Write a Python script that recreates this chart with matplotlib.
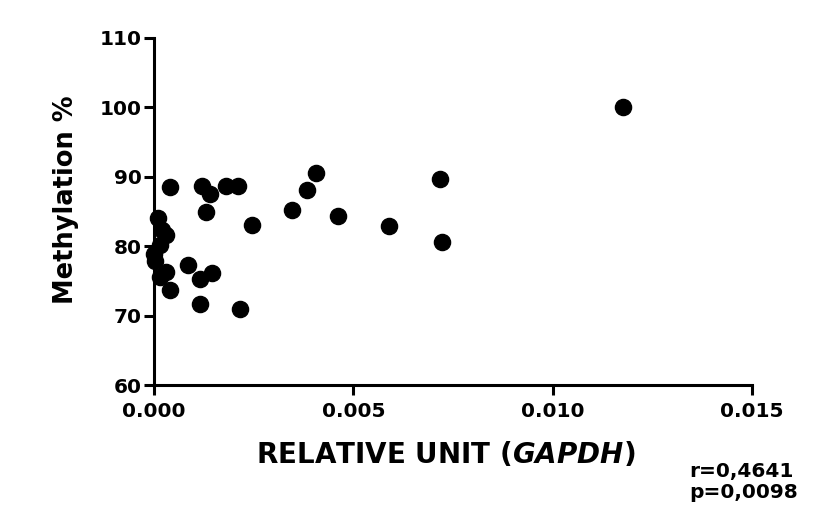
import matplotlib.pyplot as plt

# --- 数据 ---
rel_unit = [0.01176, 0.00717, 0.00722, 0.00589, 0.00462, 0.00406, 0.00384, 0.00346,
            0.0004, 0.0012, 0.0014, 0.0018, 0.0021, 0.0013, 0.00246,
            0.0001, 0.0002, 0.0003, 0.00015, 0.00000, 0.00003, 0.0003, 0.00015, 0.0004,
            0.00086, 0.00115, 0.00145, 0.00115, 0.00216]
methylation = [100.0, 89.7, 80.6, 82.9, 84.3, 90.6, 88.1, 85.2,
               88.5, 88.6, 87.5, 88.7, 88.7, 84.9, 83.1,
               84.0, 82.3, 81.6, 80.1, 78.9, 77.9, 76.3, 75.6, 73.7,
               77.3, 75.3, 76.1, 71.7, 71.0]
x_ticks = [0.000, 0.005, 0.010, 0.015]
x_tick_labels = ['0.000', '0.005', '0.010', '0.015']
y_ticks = [60, 70, 80, 90, 100, 110]

plt.rcParams['font.family'] = ['DejaVu Sans']
plt.rcParams['mathtext.fontset'] = 'dejavusans'

fig = plt.figure(figsize=(8.37, 5.26), dpi=100)
ax = fig.add_axes([0.184, 0.268, 0.7145, 0.66])

ax.scatter(rel_unit, methylation, s=135, color='black', zorder=3, clip_on=False)

ax.set_xlim(0, 0.015)
ax.set_ylim(60, 110)
ax.set_xticks(x_ticks)
ax.set_xticklabels(x_tick_labels)
ax.set_yticks(y_ticks)

for side in ['top', 'right']:
    ax.spines[side].set_visible(False)
for side in ['left', 'bottom']:
    ax.spines[side].set_linewidth(2.2)

ax.tick_params(direction='out', length=7, width=2.2, labelsize=14.5, pad=2)
ax.tick_params(axis='x', pad=5)
for lbl in ax.get_xticklabels() + ax.get_yticklabels():
    lbl.set_fontweight('bold')

ax.set_ylabel('Methylation %', fontsize=18.5, fontweight='bold')
ax.yaxis.set_label_coords(-0.125, 0.535)
ax.set_xlabel('RELATIVE UNIT ($\\mathbfit{GAPDH}$)', fontsize=20, fontweight='bold', labelpad=14)
ax.xaxis.label.set_x(0.487)

fig.text(0.823, 0.083, 'r=0,4641\np=0,0098', fontsize=14.5, fontweight='bold',
         ha='left', va='center', linespacing=1.12)

fig.savefig('out.png', dpi=100)
